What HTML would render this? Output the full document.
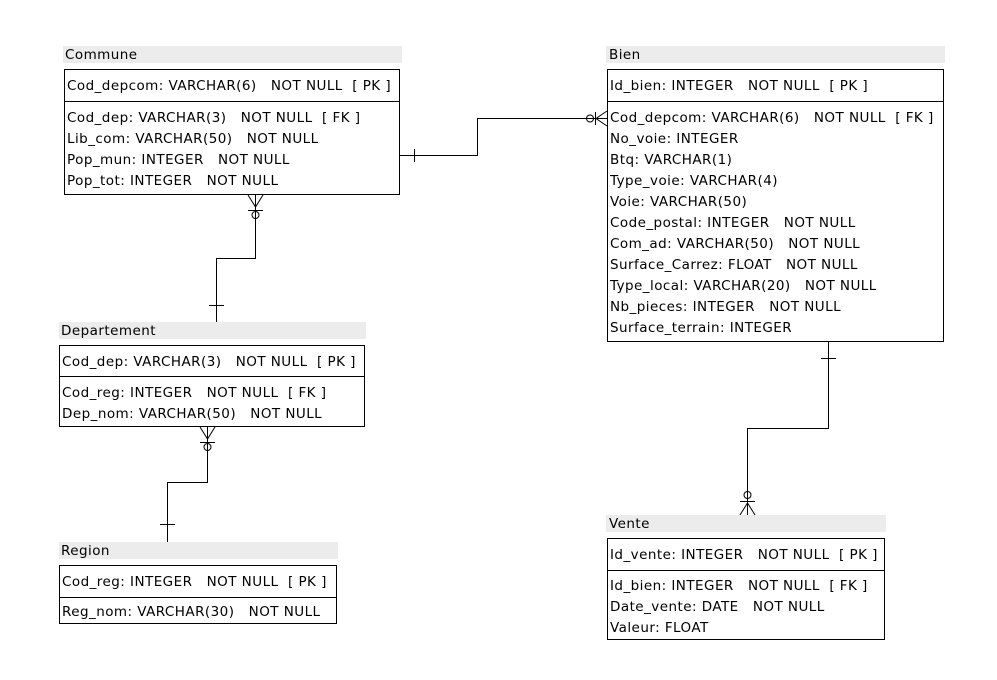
<!DOCTYPE html>
<html><head><meta charset="utf-8"><style>
body{margin:0;background:#fff;width:997px;height:675px;overflow:hidden}
svg text{font-family:"DejaVu Sans","Liberation Sans",sans-serif;font-size:13.5px;letter-spacing:0.45px;fill:#000;white-space:pre}
</style></head><body>
<svg width="997" height="675" xmlns="http://www.w3.org/2000/svg" xml:space="preserve">
<g stroke="#000" fill="none" stroke-width="1">
<rect x="63" y="46" width="339" height="17" fill="#ececec" stroke="none"/>
<rect x="64.5" y="69.5" width="335" height="125" fill="#fff"/>
<line x1="64" y1="101.5" x2="400" y2="101.5"/>
<rect x="606" y="46" width="339" height="17" fill="#ececec" stroke="none"/>
<rect x="607.5" y="69.5" width="336" height="272" fill="#fff"/>
<line x1="607" y1="101.5" x2="944" y2="101.5"/>
<rect x="59" y="322" width="307" height="17" fill="#ececec" stroke="none"/>
<rect x="59.5" y="345.5" width="305" height="81" fill="#fff"/>
<line x1="59" y1="376.5" x2="365" y2="376.5"/>
<rect x="59" y="542" width="279" height="17" fill="#ececec" stroke="none"/>
<rect x="59.5" y="565.5" width="277" height="58" fill="#fff"/>
<line x1="59" y1="597.5" x2="337" y2="597.5"/>
<rect x="606" y="515" width="280" height="17" fill="#ececec" stroke="none"/>
<rect x="607.5" y="538.5" width="277" height="101" fill="#fff"/>
<line x1="607" y1="570.5" x2="885" y2="570.5"/>

<polyline points="400,155.5 477.5,155.5 477.5,118.5 607,118.5"/>
<line x1="414.5" y1="149" x2="414.5" y2="162"/>
<circle cx="590" cy="118.5" r="3.5"/>
<line x1="595.5" y1="112" x2="595.5" y2="125"/>
<polyline points="607,111 596,118.5 607,126"/>
<polyline points="255.5,195 255.5,258.5 216.5,258.5 216.5,322"/>
<line x1="209" y1="305.5" x2="224" y2="305.5"/>
<polyline points="248,195 255.5,207 263,195"/>
<line x1="248" y1="210.5" x2="263" y2="210.5"/>
<circle cx="255.5" cy="215" r="3.5"/>
<polyline points="207.5,427 207.5,482.5 167.5,482.5 167.5,542"/>
<line x1="160" y1="524.5" x2="175" y2="524.5"/>
<polyline points="200,427 207.5,439 215,427"/>
<line x1="200" y1="442.5" x2="215" y2="442.5"/>
<circle cx="207.5" cy="447" r="3.5"/>
<polyline points="828.5,342 828.5,428.5 747.5,428.5 747.5,515"/>
<line x1="821" y1="358.5" x2="836" y2="358.5"/>
<circle cx="747.5" cy="495" r="3.5"/>
<line x1="740" y1="501.5" x2="755" y2="501.5"/>
<polyline points="740,515 747.5,503 755,515"/>
</g>
<g>
<text x="65" y="59">Commune</text>
<text x="67" y="90">Cod_depcom: VARCHAR(6)   NOT NULL  [ PK ]</text>
<text x="67" y="122">Cod_dep: VARCHAR(3)   NOT NULL  [ FK ]</text>
<text x="67" y="143">Lib_com: VARCHAR(50)   NOT NULL</text>
<text x="67" y="164">Pop_mun: INTEGER   NOT NULL</text>
<text x="67" y="185">Pop_tot: INTEGER   NOT NULL</text>

<text x="609" y="59">Bien</text>
<text x="610" y="90">Id_bien: INTEGER   NOT NULL  [ PK ]</text>
<text x="610" y="122">Cod_depcom: VARCHAR(6)   NOT NULL  [ FK ]</text>
<text x="610" y="143">No_voie: INTEGER</text>
<text x="610" y="164">Btq: VARCHAR(1)</text>
<text x="610" y="185">Type_voie: VARCHAR(4)</text>
<text x="610" y="206">Voie: VARCHAR(50)</text>
<text x="610" y="227">Code_postal: INTEGER   NOT NULL</text>
<text x="610" y="248">Com_ad: VARCHAR(50)   NOT NULL</text>
<text x="610" y="269">Surface_Carrez: FLOAT   NOT NULL</text>
<text x="610" y="290">Type_local: VARCHAR(20)   NOT NULL</text>
<text x="610" y="311">Nb_pieces: INTEGER   NOT NULL</text>
<text x="610" y="332">Surface_terrain: INTEGER</text>

<text x="61" y="335">Departement</text>
<text x="62" y="366">Cod_dep: VARCHAR(3)   NOT NULL  [ PK ]</text>
<text x="62" y="397">Cod_reg: INTEGER   NOT NULL  [ FK ]</text>
<text x="62" y="418">Dep_nom: VARCHAR(50)   NOT NULL</text>

<text x="61" y="555">Region</text>
<text x="62" y="586">Cod_reg: INTEGER   NOT NULL  [ PK ]</text>
<text x="62" y="616">Reg_nom: VARCHAR(30)   NOT NULL</text>

<text x="609" y="528">Vente</text>
<text x="610" y="559">Id_vente: INTEGER   NOT NULL  [ PK ]</text>
<text x="610" y="590">Id_bien: INTEGER   NOT NULL  [ FK ]</text>
<text x="610" y="611">Date_vente: DATE   NOT NULL</text>
<text x="610" y="632">Valeur: FLOAT</text>
</g>
</svg>
</body></html>
